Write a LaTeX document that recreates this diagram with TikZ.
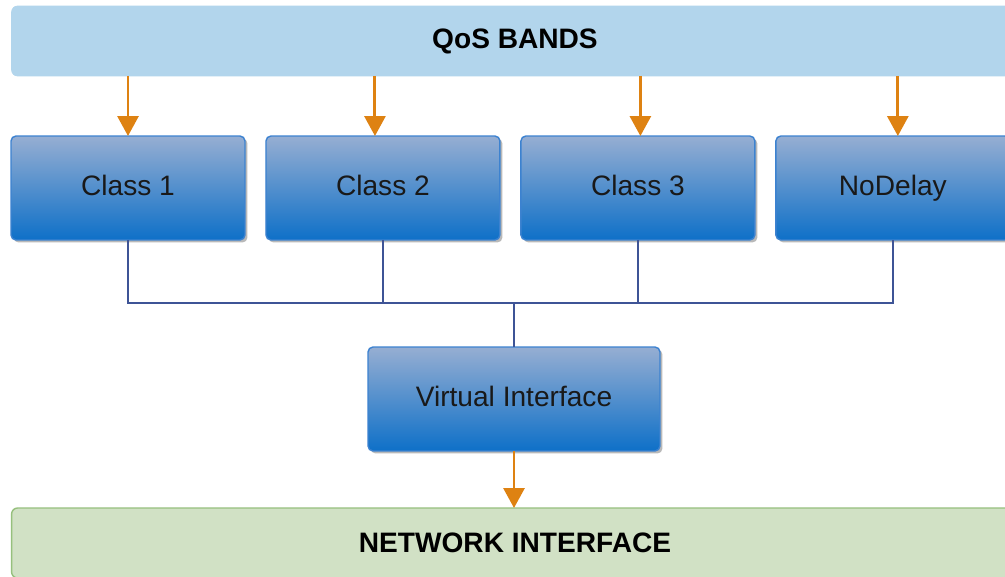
\documentclass[tikz,border=0pt]{standalone}
\usepackage{fontspec}
\setmainfont{Liberation Sans}
\usetikzlibrary{positioning, arrows.meta, shadows}
\definecolor{qosblue}{RGB}{178,213,236}
\definecolor{netgreen}{RGB}{209,225,197}
\definecolor{netedge}{RGB}{150,192,125}
\definecolor{boxtop}{RGB}{150,174,210}
\definecolor{boxbottom}{RGB}{14,112,200}
\definecolor{boxedge}{RGB}{60,130,208}
\definecolor{feedorange}{RGB}{222,130,18}
\definecolor{busblue}{RGB}{62,84,150}
\tikzstyle{bandbar} = [rectangle, rounded corners=0.12cm, outer sep=0pt, minimum width=20.14cm, minimum height=1.4cm, font=\bfseries\fontsize{16}{18}\selectfont]
\tikzstyle{classbox} = [rectangle, rounded corners=0.1cm, outer sep=0pt, draw=boxedge, thick, top color=boxtop, bottom color=boxbottom, minimum width=4.68cm, minimum height=2.08cm, text height=1.0em, text depth=0.2em, text=black!90, font=\fontsize{16}{18}\selectfont, drop shadow={shadow xshift=0.05cm, shadow yshift=-0.05cm, fill=black!50, opacity=0.55}]
\tikzstyle{feed} = [draw=feedorange, line width=1.7pt, -{Triangle[width=0.42cm, length=0.4cm]}]
\tikzstyle{bus} = [draw=busblue, line width=1.3pt]

\begin{document}
\begin{tikzpicture}[x=0.02cm, y=-0.02cm]
  \useasboundingbox (0,0) rectangle (1005,577);
  \clip (0,0) rectangle (1005,577);
  \fill[white] (0,0) rectangle (1005,577);

  \node[bandbar, fill=qosblue, draw=qosblue] (qos) at (515,41) {QoS BANDS};

  \node[classbox] (class1) at (128,188) {Class 1};
  \node[classbox, right=0.42cm of class1] (class2) {Class 2};
  \node[classbox, right=0.42cm of class2] (class3) {Class 3};
  \node[classbox, right=0.42cm of class3] (nodelay) {NoDelay};

  \node[classbox, minimum width=5.84cm] (virtual) at (514,399) {Virtual Interface};
  \node[bandbar, fill=netgreen, draw=netedge, thick] (network) at (515,543) {NETWORK INTERFACE};

  % bands feed the classes
  \draw[feed] (qos.south -| class1.north) -- (class1.north);
  \draw[feed] ([xshift=-0.16cm]qos.south -| class2.north) -- ([xshift=-0.16cm]class2.north);
  \draw[feed] ([xshift=0.05cm]qos.south -| class3.north) -- ([xshift=0.05cm]class3.north);
  \draw[feed] ([xshift=0.1cm]qos.south -| nodelay.north) -- ([xshift=0.1cm]nodelay.north);

  % classes join on one bus
  \coordinate (bus) at (514,303);
  \draw[bus] (class1.south) |- (bus -| nodelay.south) -- (nodelay.south);
  \draw[bus] (class2.south) -- (bus -| class2.south);
  \draw[bus] (class3.south) -- (bus -| class3.south);
  \draw[bus] (bus) -- (virtual.north);

  \draw[feed] (virtual.south) -- (virtual.south |- network.north);
\end{tikzpicture}
\end{document}
